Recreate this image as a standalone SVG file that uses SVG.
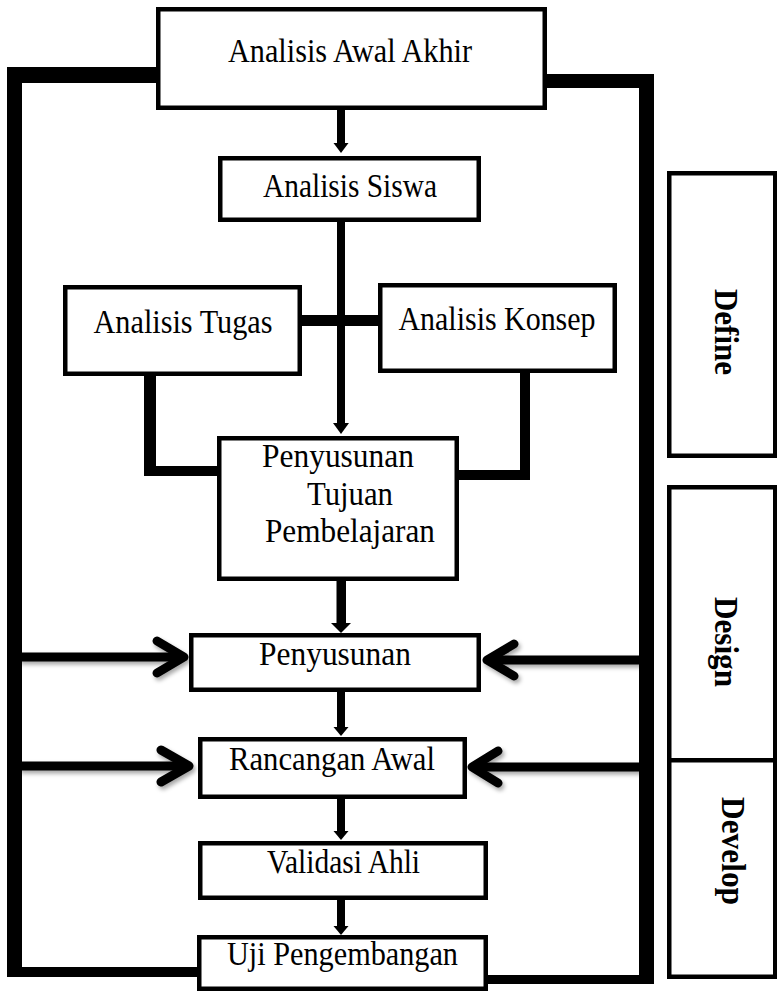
<svg xmlns="http://www.w3.org/2000/svg" width="777" height="992" viewBox="0 0 777 992">
<style>
.box{fill:#fff;stroke:#000;stroke-width:4.5}
.bar{fill:#000}
.head{fill:#000}
.lbl{font-family:"Liberation Serif","Times New Roman",serif;font-size:33px;fill:#000;text-anchor:middle}
.phase{font-family:"Liberation Serif","Times New Roman",serif;font-size:34px;font-weight:bold;fill:#000;text-anchor:middle}
.side{fill:none;stroke:#000;stroke-width:9;stroke-linecap:round;stroke-linejoin:round}
</style>
<defs>
<filter id="sh" x="-10%" y="-50%" width="130%" height="200%">
<feDropShadow dx="2" dy="3" stdDeviation="2" flood-color="#000" flood-opacity="0.35"/>
</filter>
</defs>
<rect width="777" height="992" fill="#fff"/>
<g id="connectors">
<!-- outer frame -->
<rect class="bar" x="7" y="67" width="151" height="16"/>
<rect class="bar" x="7" y="67" width="15" height="910"/>
<rect class="bar" x="7" y="967" width="192" height="10"/>
<rect class="bar" x="545" y="74" width="109" height="14"/>
<rect class="bar" x="639" y="74" width="15" height="910"/>
<rect class="bar" x="486" y="975" width="168" height="9"/>
<!-- tugas / konsep -->
<rect class="bar" x="300" y="315" width="80" height="11"/>
<rect class="bar" x="144" y="374" width="12" height="102"/>
<rect class="bar" x="144" y="466" width="75" height="10"/>
<rect class="bar" x="520" y="371" width="10" height="109"/>
<rect class="bar" x="457" y="470" width="73" height="10"/>
<!-- down arrows -->
<rect class="bar" x="337" y="110" width="8" height="34"/>
<polygon class="head" points="333.5,143 348.5,143 341,153"/>
<rect class="bar" x="337" y="222" width="8" height="202"/>
<polygon class="head" points="333,423 349,423 341,434"/>
<rect class="bar" x="336.5" y="581" width="9.5" height="43"/>
<polygon class="head" points="331,623 351,623 341,633"/>
<rect class="bar" x="337" y="692" width="8" height="36"/>
<polygon class="head" points="333.5,727 348.5,727 341,736"/>
<rect class="bar" x="337" y="799" width="8" height="33"/>
<polygon class="head" points="333.5,831 348.5,831 341,840"/>
<rect class="bar" x="337" y="900" width="8" height="27"/>
<polygon class="head" points="333.5,926 348.5,926 341,935"/>
<!-- side arrows -->
<g filter="url(#sh)">
<line class="side" x1="22" y1="657" x2="182" y2="657" stroke-linecap="butt"/>
<polyline class="side" points="157,641 184,657 157,673"/>
<line class="side" x1="639" y1="660" x2="489" y2="660" stroke-linecap="butt"/>
<polyline class="side" points="514,644 487,660 514,676"/>
<line class="side" x1="22" y1="766" x2="187" y2="766" stroke-linecap="butt"/>
<polyline class="side" points="161,750 189,766 161,782"/>
<line class="side" x1="639" y1="767" x2="474" y2="767" stroke-linecap="butt"/>
<polyline class="side" points="498,751 472,767 498,783"/>
</g>
</g>
<g id="n-awal"><rect class="box" x="158.25" y="9.25" width="386.5" height="98.5"/><text class="lbl" x="350" y="62" textLength="244" lengthAdjust="spacingAndGlyphs">Analisis Awal Akhir</text></g>
<g id="n-siswa"><rect class="box" x="220.25" y="158.25" width="258.5" height="61.5"/><text class="lbl" x="350" y="197" textLength="174" lengthAdjust="spacingAndGlyphs">Analisis Siswa</text></g>
<g id="n-tugas"><rect class="box" x="65.25" y="287.25" width="234.5" height="86.5"/><text class="lbl" x="183" y="333" textLength="179" lengthAdjust="spacingAndGlyphs">Analisis Tugas</text></g>
<g id="n-konsep"><rect class="box" x="380.25" y="285.25" width="234.5" height="85.5"/><text class="lbl" x="497" y="330" textLength="197" lengthAdjust="spacingAndGlyphs">Analisis Konsep</text></g>
<g id="n-tujuan"><rect class="box" x="219.25" y="438.25" width="237.5" height="140.5"/>
<text class="lbl" x="338" y="467" textLength="152" lengthAdjust="spacingAndGlyphs">Penyusunan</text>
<text class="lbl" x="350" y="505" textLength="86" lengthAdjust="spacingAndGlyphs">Tujuan</text>
<text class="lbl" x="350" y="542" textLength="170" lengthAdjust="spacingAndGlyphs">Pembelajaran</text></g>
<g id="n-penyusunan"><rect class="box" x="191.25" y="635.25" width="287.5" height="54.5"/><text class="lbl" x="335" y="665" textLength="152" lengthAdjust="spacingAndGlyphs">Penyusunan</text></g>
<g id="n-rancangan"><rect class="box" x="200.25" y="739.25" width="264.5" height="57.5"/><text class="lbl" x="332" y="770" textLength="206" lengthAdjust="spacingAndGlyphs">Rancangan Awal</text></g>
<g id="n-validasi"><rect class="box" x="200.25" y="843.25" width="285.5" height="54.5"/><text class="lbl" x="343.5" y="873" textLength="153" lengthAdjust="spacingAndGlyphs">Validasi Ahli</text></g>
<g id="n-uji"><rect class="box" x="199.25" y="937.25" width="286.5" height="51.5"/><text class="lbl" x="342.5" y="965" textLength="231" lengthAdjust="spacingAndGlyphs">Uji Pengembangan</text></g>
<g id="p-define"><rect class="box" x="669.25" y="173.25" width="106" height="282.5"/><text class="phase" transform="translate(715,332) rotate(90)" textLength="86" lengthAdjust="spacingAndGlyphs">Define</text></g>
<g id="p-design"><rect class="box" x="669.25" y="487.25" width="106" height="273"/><text class="phase" transform="translate(715,642) rotate(90)" textLength="90" lengthAdjust="spacingAndGlyphs">Design</text></g>
<g id="p-develop"><rect class="box" x="669.25" y="760.25" width="106" height="216.5"/><text class="phase" transform="translate(722,851) rotate(90)" textLength="108" lengthAdjust="spacingAndGlyphs">Develop</text></g>
</svg>
